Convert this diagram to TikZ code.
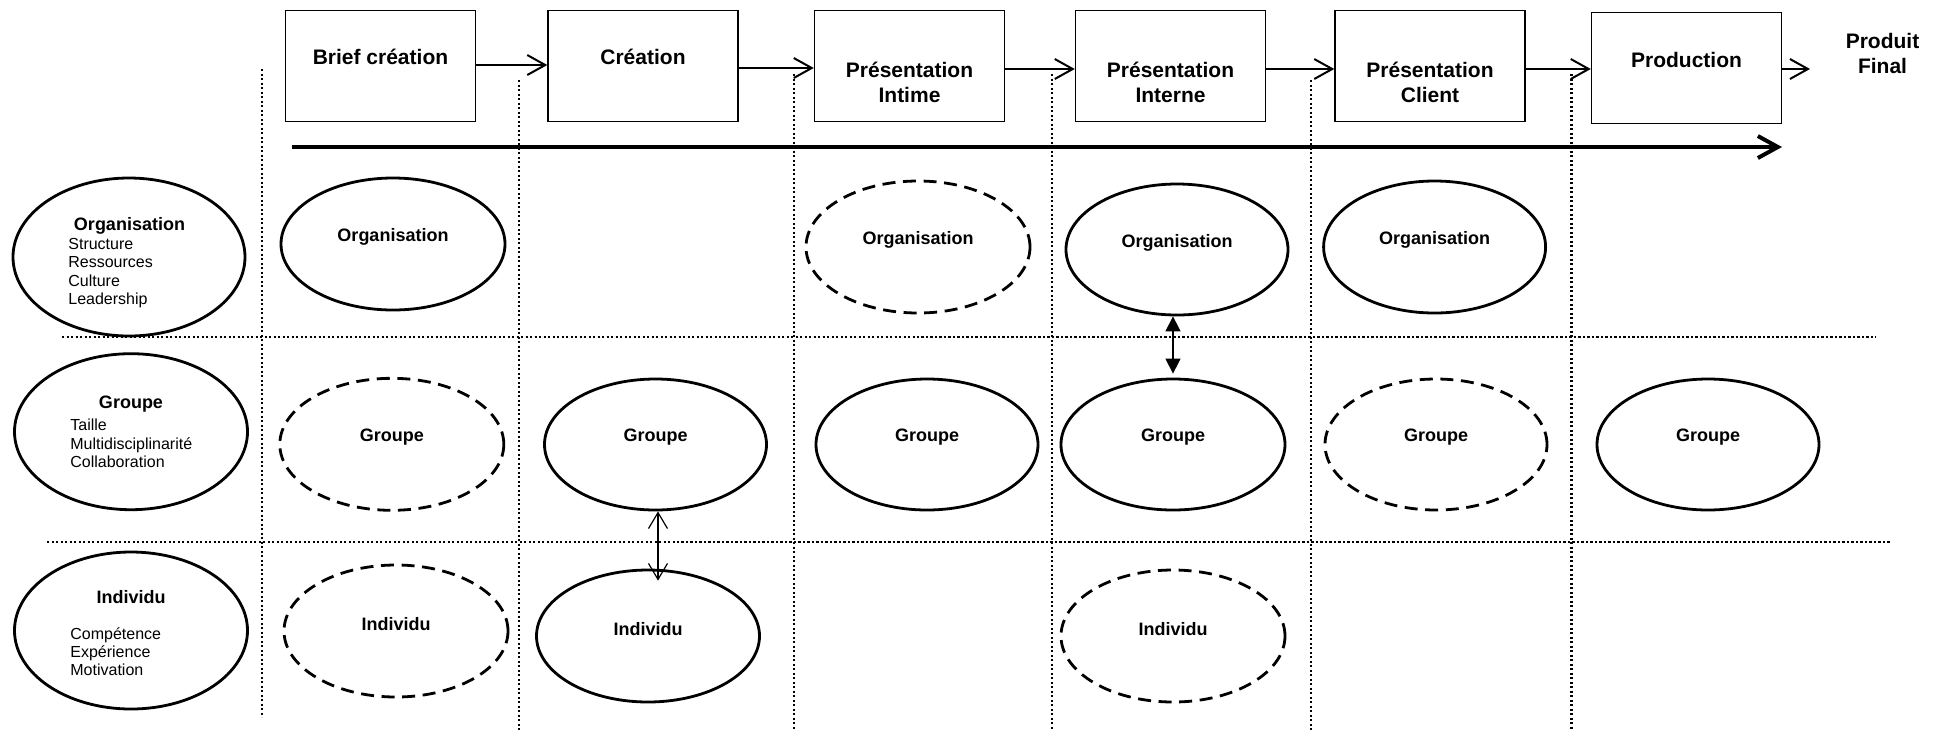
\documentclass[tikz,border=0pt]{standalone}
\usepackage{fontspec}
\setmainfont{Liberation Sans}
\usetikzlibrary{arrows.meta,calc,shapes.geometric}
\begin{document}
\begin{tikzpicture}[x=0.5pt,y=-0.5pt,
  stagebox/.style={draw,line width=0.7pt,minimum width=95pt,minimum height=55.5pt,inner sep=0pt},
  stagetxt/.style={font=\fontsize{10.5}{12.5}\selectfont\bfseries,align=center,inner sep=0pt},
  ell/.style={draw,ellipse,line width=1.4pt,inner sep=0pt},
  dell/.style={ell,dash pattern=on 6.5pt off 3.8pt},
  esize/.style 2 args={minimum width=#1pt,minimum height=#2pt},
  elltxt/.style={font=\fontsize{9}{11}\selectfont\bfseries,inner sep=0pt,yshift=3.5pt},
  titletxt/.style={font=\fontsize{9}{11}\selectfont\bfseries,inner sep=0pt},
  itemtxt/.style={font=\fontsize{8}{9.1}\selectfont,align=left,inner sep=0pt,anchor=west},
  gridline/.style={line width=1.2pt,dash pattern=on 1.15pt off 1.1pt},
  flowarr/.style={line width=1pt,-{Straight Barb[length=9pt,width=10pt]}},
  timearr/.style={line width=2pt,-{Straight Barb[length=10pt,width=11pt]}},
  linkfill/.style={line width=0.7pt,{Triangle[length=7.5pt,width=7.5pt]}-{Triangle[length=7.5pt,width=7.5pt]}},
  linkopen/.style={line width=0.6pt,{Straight Barb[length=8pt,width=9.5pt]}-{Straight Barb[length=8pt,width=9.5pt]}},
]
\useasboundingbox (0,0) rectangle (1945,730);

% grid lines
\draw[gridline] (262,69) -- (262,717);
\draw[gridline] (519,80) -- (519,730);
\draw[gridline] (794,74) -- (794,730);
\draw[gridline] (1052,74) -- (1052,730);
\draw[gridline] (1311,80) -- (1311,730);
\draw[gridline] (1571.5,74) -- (1571.5,730);
\draw[gridline] (62,337) -- (1876,337);
\draw[gridline] (47,541.7) -- (1890,541.7);

% stage boxes
\node[stagebox] (b1) at (380.5,66) {};
\node[stagebox] (b2) at (643,66) {};
\node[stagebox] (b3) at (909.5,66) {};
\node[stagebox] (b4) at (1170.5,66) {};
\node[stagebox] (b5) at (1430,66) {};
\node[stagebox] (b6) at (1686.5,68) {};
\node[stagetxt] (t1) at (380.5,57) {Brief création};
\node[stagetxt] (t2) at (643,57) {Création};
\node[stagetxt] (t3) at (909.5,82.5) {Présentation\\Intime};
\node[stagetxt] (t4) at (1170.5,82.5) {Présentation\\Interne};
\node[stagetxt] (t5) at (1430,82.5) {Présentation\\Client};
\node[stagetxt] (t6) at (1686.5,60) {Production};
\node[stagetxt] (pfin) at (1882.5,53) {Produit\\Final};

\coordinate (pf) at (1810,69);
\draw[flowarr] (b1.east |- 0,65) -- (b2.west |- 0,65);
\draw[flowarr] (b2.east |- 0,68) -- (b3.west |- 0,68);
\draw[flowarr] (b3.east |- 0,69) -- (b4.west |- 0,69);
\draw[flowarr] (b4.east |- 0,69) -- (b5.west |- 0,69);
\draw[flowarr] (b5.east |- 0,69) -- (b6.west |- 0,69);
\draw[flowarr] (b6.east |- pf) -- (pf);

% time arrow
\coordinate (ts) at (292,147);
\coordinate (te) at (1782,147);
\draw[timearr] (ts) -- (te);

% left legend ellipses
\node[ell,esize={116}{79}] (lorg) at (129,257) {};
\node[titletxt] (lorgT) at (129.5,226) {Organisation};
\node[itemtxt] (lorgI) at (68,273) {Structure\\Ressources\\Culture\\Leadership};

\node[ell,esize={116.5}{78}] (lgrp) at (131,431.7) {};
\node[titletxt] (lgrpT) at (131,404) {Groupe};
\node[itemtxt] (lgrpI) at (70,443.4) {Taille\\Multidisciplinarité\\Collaboration};

\node[ell,esize={116.5}{78.5}] (lind) at (131,630.5) {};
\node[titletxt] (lindT) at (131,596.7) {Individu};
\node[itemtxt] (lindI) at (70,651.8) {Compétence\\Expérience\\Motivation};

% organisation row
\node[ell,esize={112}{66},label={[elltxt]center:Organisation}] (o1) at (393,244) {};
\node[dell,esize={112}{66},label={[elltxt]center:Organisation}] (o3) at (918,247) {};
\node[ell,esize={111}{65.5},label={[elltxt]center:Organisation}] (o4) at (1177,249.5) {};
\node[ell,esize={111}{66},label={[elltxt]center:Organisation}] (o5) at (1434.6,247) {};

% groupe row
\node[dell,esize={112}{66},label={[elltxt]center:Groupe}] (g1) at (391.8,444.3) {};
\node[ell,esize={111}{65.5},label={[elltxt]center:Groupe}] (g2) at (655.5,444.5) {};
\node[ell,esize={111}{65.5},label={[elltxt]center:Groupe}] (g3) at (927,444.5) {};
\node[ell,esize={112}{65.5},label={[elltxt]center:Groupe}] (g4) at (1173,444.5) {};
\node[dell,esize={111}{65.5},label={[elltxt]center:Groupe}] (g5) at (1436,444.5) {};
\node[ell,esize={111}{65.5},label={[elltxt]center:Groupe}] (g6) at (1708,444.5) {};

% individu row
\node[dell,esize={112}{66},label={[elltxt]center:Individu}] (i1) at (396,631) {};
\node[ell,esize={111.5}{66},label={[elltxt]center:Individu}] (i2) at (648,636) {};
\node[dell,esize={112}{66},label={[elltxt]center:Individu}] (i4) at (1173,636) {};

% links
\draw[linkfill,shorten >=2pt] (g4.north |- o4.south) -- (g4.north);
\draw[linkopen] (658,0 |- g2.south) -- ($(658,0 |- i2.north)+(0,12)$);

\end{tikzpicture}
\end{document}
